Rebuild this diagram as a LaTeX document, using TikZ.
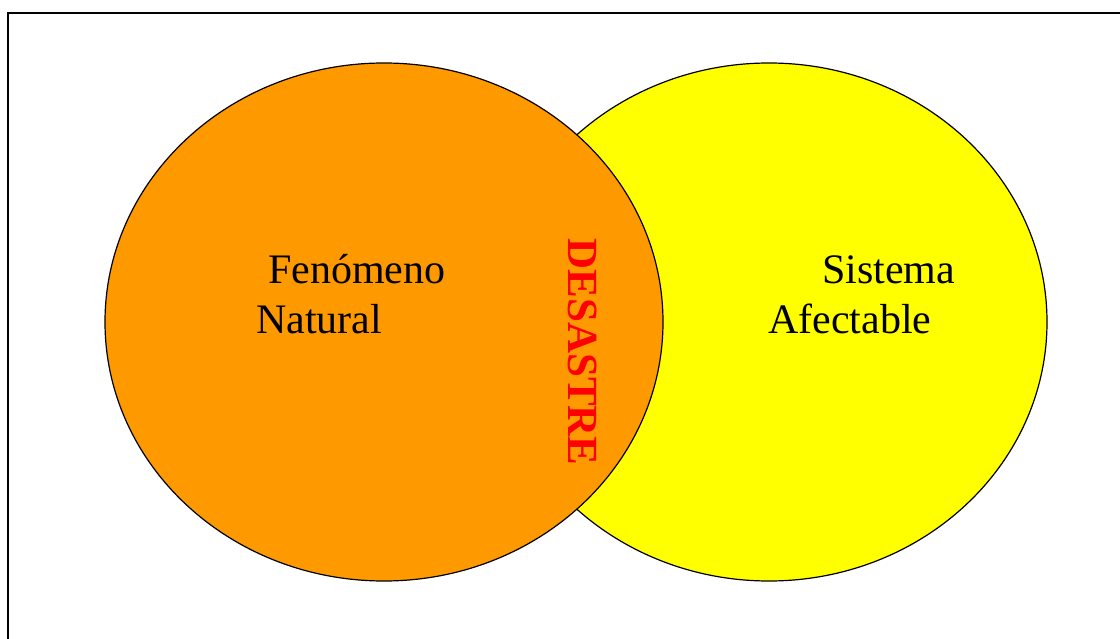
\documentclass[tikz,border=0pt]{standalone}
\usepackage{fontspec}
\setmainfont{Liberation Serif}
\definecolor{fenorange}{HTML}{FF9900}
\definecolor{sysyellow}{HTML}{FFFF00}
\definecolor{desred}{HTML}{FF0000}
\begin{document}
\begin{tikzpicture}[x=1pt,y=-1pt,
  blob/.style={draw=black, line width=1.2pt},
  lbl/.style={font=\fontsize{42}{48}\selectfont, anchor=base west, inner sep=0pt},
  dlbl/.style={font=\fontsize{43}{48}\selectfont\bfseries, text=desred, rotate=-90, inner sep=0pt}]
\useasboundingbox (0,0) rectangle (1120,639);
\fill[white] (0,0) rectangle (1120,639);
\draw[line width=2pt] (8,660) -- (8,13) -- (1140,13);
\path[blob, fill=sysyellow] (769,322) ellipse [x radius=278, y radius=259];
\path[blob, fill=fenorange] (384,322) ellipse [x radius=279, y radius=259];
\node[lbl] (fen) at (268,284) {Fenómeno};
\node[lbl] (nat) at (256,334) {Natural};
\node[lbl] (sis) at (822,284) {Sistema};
\node[lbl] (afe) at (768,334) {Afectable};
\node[dlbl] (des) at (583,352) {DESASTRE};
\end{tikzpicture}
\end{document}
